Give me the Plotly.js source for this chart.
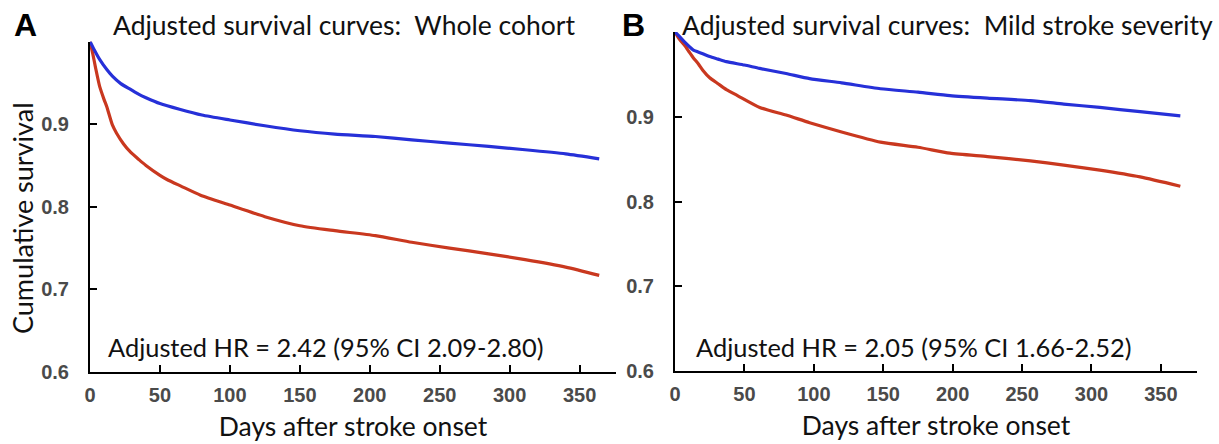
<!DOCTYPE html>
<html>
<head>
<meta charset="utf-8">
<script src="https://cdn.plot.ly/plotly-3.0.1.min.js"></script>
<style>html,body{margin:0;padding:0;background:#fff;}#chart{width:1219px;height:444px;}</style>
</head>
<body>
<div id="chart"></div>
<script>
// Panel A: whole cohort
var daysBlueA = [0,3,7,12,16,22,29,35,40,50,64,80,100,125,150,175,204,230,257,285,311,340,364];
var survBlueA = [1.0,0.99,0.978,0.966,0.958,0.949,0.942,0.936,0.932,0.925,0.918,0.911,0.905,0.898,0.892,0.888,0.885,0.881,0.877,0.873,0.869,0.864,0.858];
var daysRedA = [0,2,4,7,10,12,16,19,24,29,35,40,50,55,65,79,100,125,150,175,204,230,257,285,311,340,364];
var survRedA = [1.0,0.985,0.968,0.945,0.93,0.921,0.899,0.889,0.876,0.866,0.857,0.850,0.838,0.833,0.825,0.814,0.802,0.788,0.777,0.771,0.765,0.757,0.750,0.743,0.736,0.727,0.717];
// Panel B: mild stroke severity
var daysBlueB = [0,3,7,13,19,25,31,37,50,61,80,97,120,148,175,198,225,256,280,306,335,364];
var survBlueB = [1.0,0.995,0.988,0.979,0.975,0.971,0.968,0.965,0.961,0.957,0.951,0.945,0.940,0.933,0.929,0.925,0.922,0.919,0.915,0.911,0.906,0.901];
var daysRedB = [0,3,7,10,13,17,20,25,31,37,45,61,80,97,120,148,175,198,225,256,280,306,335,364];
var survRedB = [1.0,0.992,0.984,0.977,0.970,0.962,0.955,0.946,0.939,0.932,0.925,0.911,0.902,0.893,0.882,0.870,0.864,0.857,0.853,0.848,0.843,0.837,0.829,0.818];

var xTickVals = [0,50,100,150,200,250,300,350];
var yTickVals = [0.6,0.7,0.8,0.9];
var yTickText = ['0.6','0.7','0.8','0.9'];
var panelLetters = ['A','B'];
var panelTitles = ['Adjusted survival curves:  Whole cohort','Adjusted survival curves:  Mild stroke severity'];
var hrTexts = ['Adjusted HR = 2.42 (95% CI 2.09-2.80)','Adjusted HR = 2.05 (95% CI 1.66-2.52)'];
var xTitle = 'Days after stroke onset';
var yTitle = 'Cumulative survival';

var BLUE = '#2630d8', RED = '#c9381f';
var W = 1219, H = 444;
var calibri = 'Lato, "Open Sans", sans-serif';
var tickFont = {family:'"Liberation Sans", Arial, sans-serif', size:20, color:'#4a4a4a', weight:'bold'};

function line(x, y, color, xa, ya){
  return {x:x, y:y, mode:'lines', type:'scatter', xaxis:xa, yaxis:ya,
    line:{color:color, width:3.2, shape:'spline', smoothing:0.6}, hoverinfo:'skip', showlegend:false};
}
var data = [
  line(daysRedA, survRedA, RED, 'x', 'y'),
  line(daysBlueA, survBlueA, BLUE, 'x', 'y'),
  line(daysRedB, survRedB, RED, 'x2', 'y2'),
  line(daysBlueB, survBlueB, BLUE, 'x2', 'y2')
];

function xax(dom, anchor, title){
  return {domain:dom, anchor:anchor, range:[0,376], tickvals:xTickVals, ticks:'inside', ticklen:7, tickwidth:2,
    tickcolor:'#000', showline:true, linecolor:'#000', linewidth:2, showgrid:false, zeroline:false,
    tickfont:tickFont, ticklabelstandoff:4,
    title:{text:title, font:{family:calibri, size:26.5, color:'#111'}, standoff:12}, fixedrange:true};
}
function yax(dom, anchor){
  return {domain:dom, anchor:anchor, range:[0.6,1.0], tickvals:yTickVals, ticktext:yTickText, ticks:'inside', ticklen:7, tickwidth:2,
    tickcolor:'#000', showline:true, linecolor:'#000', linewidth:2, showgrid:false, zeroline:false,
    tickfont:tickFont, ticklabelstandoff:15, fixedrange:true};
}

var layout = {
  width:W, height:H, margin:{l:0,r:0,t:0,b:0}, paper_bgcolor:'#fff', plot_bgcolor:'#fff', showlegend:false,
  xaxis: xax([90/W, 616/W], 'y', xTitle),
  yaxis: yax([(H-372)/H, (H-41.5)/H], 'x'),
  xaxis2: xax([675/W, 1197/W], 'y2', xTitle),
  yaxis2: yax([(H-371)/H, (H-32)/H], 'x2'),
  annotations: [
    {text:yTitle, xref:'paper', yref:'paper', x:22/W, y:(H-218)/H, xanchor:'center', yanchor:'middle', textangle:-90, showarrow:false,
      font:{family:calibri, size:27, color:'#111'}},
    {text:panelLetters[0], xref:'paper', yref:'paper', x:12/W, y:(H-25)/H, xanchor:'left', yanchor:'middle', showarrow:false,
      font:{family:'"Liberation Sans", Arial, sans-serif', size:32, color:'#000', weight:'bold'}},
    {text:panelLetters[1], xref:'paper', yref:'paper', x:620/W, y:(H-25)/H, xanchor:'left', yanchor:'middle', showarrow:false,
      font:{family:'"Liberation Sans", Arial, sans-serif', size:32, color:'#000', weight:'bold'}},
    {text:panelTitles[0], xref:'paper', yref:'paper', x:111/W, y:(H-25)/H, xanchor:'left', yanchor:'middle', showarrow:false,
      font:{family:calibri, size:26.5, color:'#111'}},
    {text:panelTitles[1], xref:'paper', yref:'paper', x:680/W, y:(H-25)/H, xanchor:'left', yanchor:'middle', showarrow:false,
      font:{family:calibri, size:26.5, color:'#111'}},
    {text:hrTexts[0], xref:'paper', yref:'paper', x:106/W, y:(H-347)/H, xanchor:'left', yanchor:'middle', showarrow:false,
      font:{family:calibri, size:25.4, color:'#111'}},
    {text:hrTexts[1], xref:'paper', yref:'paper', x:694/W, y:(H-347)/H, xanchor:'left', yanchor:'middle', showarrow:false,
      font:{family:calibri, size:25.4, color:'#111'}}
  ]
};

Plotly.newPlot('chart', data, layout, {staticPlot:true, displayModeBar:false});
</script>
</body>
</html>
